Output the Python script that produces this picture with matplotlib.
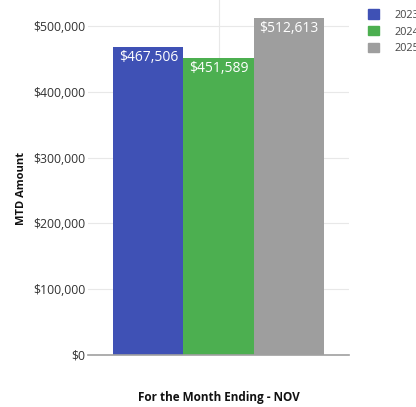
import matplotlib
matplotlib.use("Agg")
import matplotlib.pyplot as plt
from matplotlib.patches import Patch

plt.rcParams['font.family'] = ['Open Sans', 'DejaVu Sans']

category = "For the Month Ending - NOV"
years = ["2023", "2024", "2025"]
values = [467506, 451589, 512613]
colors = ["#3f51b5", "#4caf50", "#9e9e9e"]
yticks = [0, 100000, 200000, 300000, 400000, 500000]
ytick_labels = ["$0", "$100,000", "$200,000", "$300,000", "$400,000", "$500,000"]

W, H = 416, 407
fig = plt.figure(figsize=(W / 100, H / 100), dpi=100)
ax = fig.add_axes([88 / W, 1 - 355 / H, 261 / W, 355 / H])

group_width = 0.805
bw = group_width / len(values)
offsets = [(i - (len(values) - 1) / 2) * bw for i in range(len(values))]
bars = ax.bar(offsets, values, width=bw, color=colors, zorder=2)

for b, v in zip(bars, values):
    ax.text(b.get_x() + b.get_width() / 2, v - 4500, f"${v:,.0f}",
            ha="center", va="top", color="white", fontsize=10, zorder=3)

ax.set_xlim(-0.5, 0.5)
ax.set_ylim(0, 539500)
ax.set_yticks(yticks)
ax.set_yticklabels(ytick_labels, fontsize=8.8, color="#333333")
ax.set_xticks([0])
ax.set_xticklabels([""])
ax.tick_params(axis="both", length=0, pad=2)
ax.grid(True, color="#e8e8e8", linewidth=0.8, zorder=0)
for s in ["top", "right", "left"]:
    ax.spines[s].set_visible(False)
ax.spines["bottom"].set_color("#a0a0a0")
ax.spines["bottom"].set_linewidth(1.2)

fig.text(22 / W, 1 - 188 / H, "MTD Amount", rotation=90, ha="center", va="center",
         fontsize=8, fontweight="bold", color="#111111")
fig.text(219 / W, 1 - 397 / H, category, ha="center", va="center",
         fontsize=8.5, fontweight="bold", color="#111111")

handles = [Patch(facecolor=c, edgecolor=c) for c in colors]
fig.legend(handles, years, loc="upper left", bbox_to_anchor=(364 / W, 1 - 5 / H),
           frameon=False, fontsize=7.8, handlelength=0.95, handleheight=0.95,
           labelspacing=0.5, handletextpad=1.5, borderaxespad=0, labelcolor="#444444")

fig.savefig("out.png", dpi=100)
